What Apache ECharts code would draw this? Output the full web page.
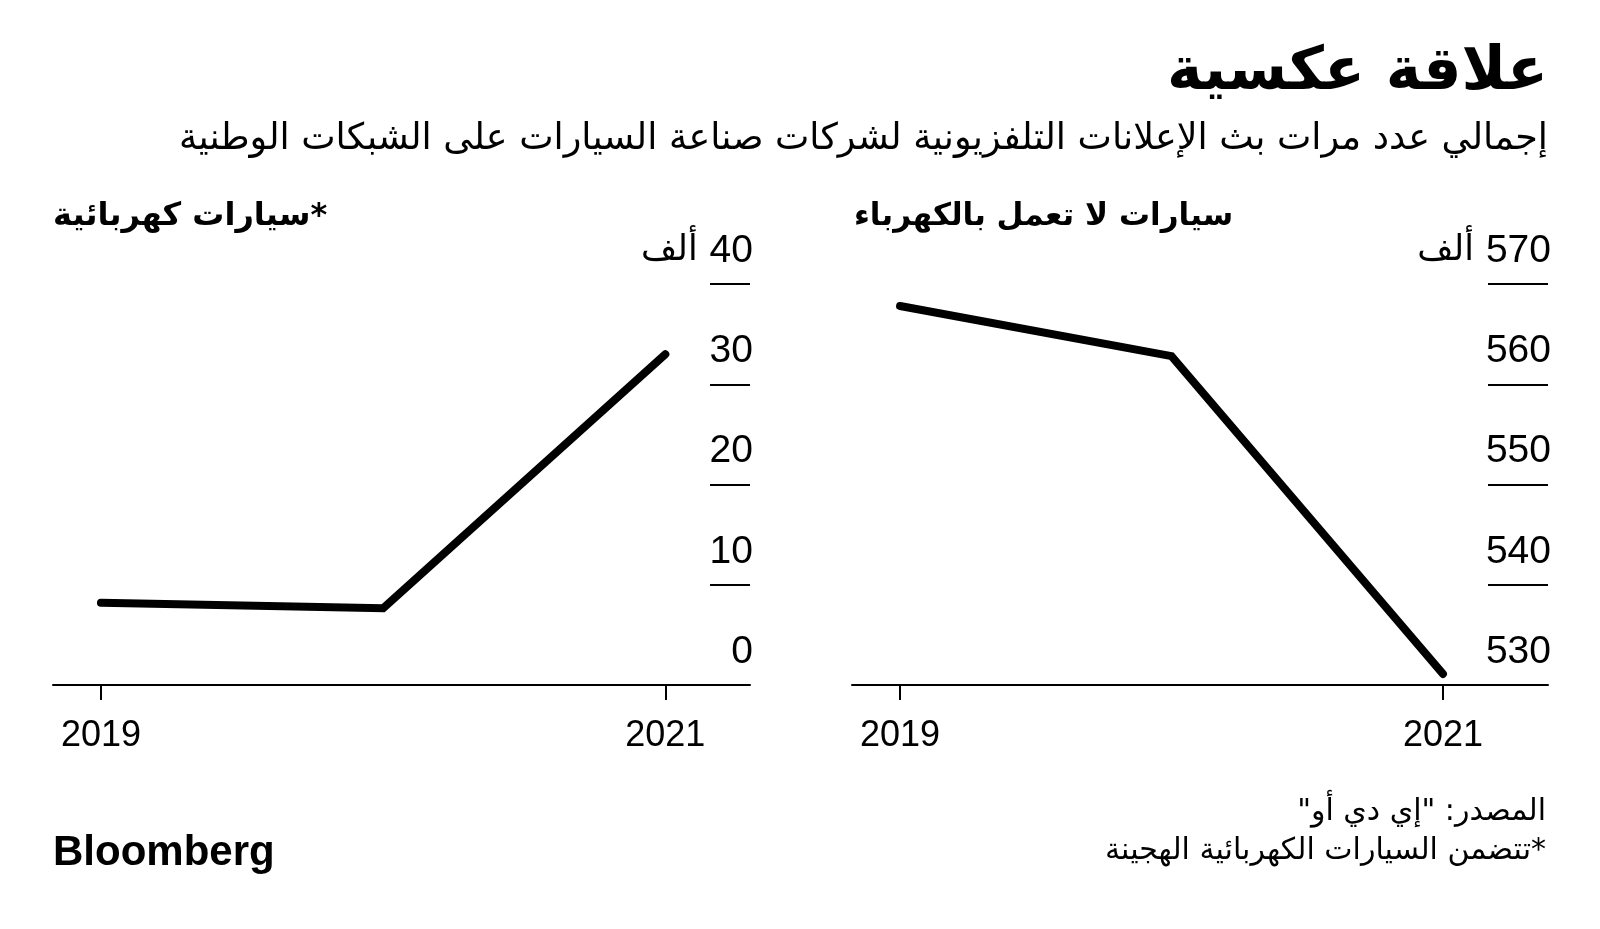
<!DOCTYPE html>
<html>
<head>
<meta charset="utf-8">
<script src="https://cdn.jsdelivr.net/npm/echarts@6/dist/echarts.min.js"></script>
<style>
html,body{margin:0;padding:0;background:#fff;}
#chart{width:1600px;height:929px;}
</style>
</head>
<body>
<div id="chart"></div>
<script>
// ---- data ----
const years = [2019, 2020, 2021];
const electricCars = [8.2, 7.65, 33.0];          // thousands
const nonElectricCars = [567.8, 562.8, 531.1];   // thousands
const xTickYears = [2019, 2021];
const unitLabel = 'ألف';

const titleText = 'علاقة عكسية';
const subtitleText = 'إجمالي عدد مرات بث الإعلانات التلفزيونية لشركات صناعة السيارات على الشبكات الوطنية';
const leftPanelTitle = 'سيارات كهربائية*';
const rightPanelTitle = 'سيارات لا تعمل بالكهرباء';
const sourceText = 'المصدر: "إي دي أو"\u200F';
const noteText = 'تتضمن السيارات الكهربائية الهجينة*';

const AR = "'DejaVu Sans', sans-serif";
const LAT = "'Liberation Sans', Arial, sans-serif";

const chart = echarts.init(document.getElementById('chart'), null, {renderer: 'canvas'});

function pairs(vals) { return years.map((y, i) => [y, vals[i]]); }

function xAxisDef(gridIndex, min, max) {
  return {
    type: 'value', gridIndex, min, max,
    splitLine: {show: false},
    axisLine: {show: true, onZero: false, lineStyle: {color: '#000', width: 2}},
    axisTick: {show: true, customValues: xTickYears, length: 15, lineStyle: {color: '#000', width: 2}},
    axisLabel: {show: true, customValues: xTickYears, color: '#000', fontFamily: LAT, fontSize: 36, margin: 33,
      formatter: v => String(v)}
  };
}

function yAxisDef(gridIndex, min, max, tickLen) {
  return {
    type: 'value', gridIndex, min, max, interval: 10, position: 'right',
    splitLine: {show: false},
    axisLine: {show: false},
    axisTick: {show: true, inside: true, length: tickLen, lineStyle: {color: '#000', width: 2}},
    axisLabel: {
      show: true, inside: true, margin: -3, color: '#000', fontFamily: LAT, fontSize: 39,
      verticalAlign: 'middle', padding: [0, 0, 66, 0],
      formatter: v => v === max ? '{u|' + unitLabel + '}' + v : String(v),
      rich: {u: {fontFamily: AR, fontSize: 35, color: '#000', padding: [0, 12, 0, 0]}}
    }
  };
}

const option = {
  backgroundColor: '#fff',
  animation: false,
  grid: [
    {left: 53, right: 850, top: 284, bottom: 244},
    {left: 852, right: 52, top: 284, bottom: 244}
  ],
  xAxis: [xAxisDef(0, 2018.83, 2021.30), xAxisDef(1, 2018.823, 2021.387)],
  yAxis: [yAxisDef(0, 0, 40, 40), yAxisDef(1, 530, 570, 60)],
  series: [
    {type: 'line', xAxisIndex: 0, yAxisIndex: 0, data: pairs(electricCars), showSymbol: false,
      lineStyle: {color: '#000', width: 8, cap: 'round', join: 'miter'}},
    {type: 'line', xAxisIndex: 1, yAxisIndex: 1, data: pairs(nonElectricCars), showSymbol: false,
      lineStyle: {color: '#000', width: 8, cap: 'round', join: 'miter'}}
  ],
  graphic: [
    {type: 'text', right: 52, top: 43, style: {text: titleText, font: "bold 60px 'DejaVu Sans'", fill: '#000'}},
    {type: 'text', right: 52, top: 121, style: {text: subtitleText, font: "36.5px 'DejaVu Sans'", fill: '#000'}},
    {type: 'text', left: 53, top: 201, style: {text: leftPanelTitle, font: "bold 32px 'DejaVu Sans'", fill: '#000'}},
    {type: 'text', left: 854, top: 201, style: {text: rightPanelTitle, font: "bold 31px 'DejaVu Sans'", fill: '#000'}},
    {type: 'text', right: 54, top: 797, style: {text: sourceText, font: "30px 'DejaVu Sans'", fill: '#000'}},
    {type: 'text', right: 54, top: 836, style: {text: noteText, font: "30px 'DejaVu Sans'", fill: '#000'}},
    {type: 'text', left: 53, top: 832, style: {text: 'Bloomberg', font: "bold 42px 'Liberation Sans'", fill: '#000'}}
  ]
};
chart.setOption(option);
</script>
</body>
</html>
